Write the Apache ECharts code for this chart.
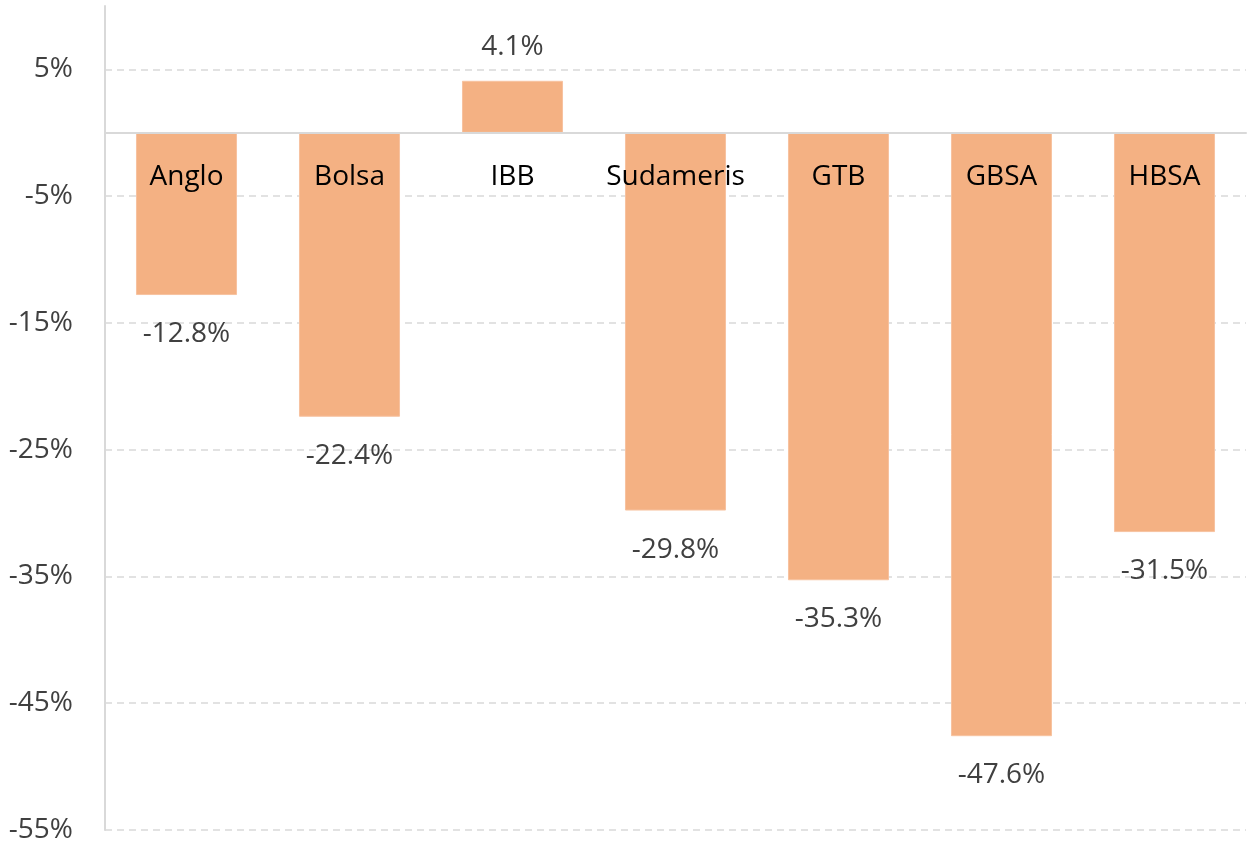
<!DOCTYPE html>
<html>
<head>
<meta charset="utf-8">
<script src="https://cdn.jsdelivr.net/npm/echarts@6/dist/echarts.min.js"></script>
<style>html,body{margin:0;padding:0;background:#fff}#c{width:1250px;height:848px}</style>
</head>
<body>
<div id="c"></div>
<script>
const categories = ['Anglo', 'Bolsa', 'IBB', 'Sudameris', 'GTB', 'GBSA', 'HBSA'];
const values = [-12.8, -22.4, 4.1, -29.8, -35.3, -47.6, -31.5];
const yMin = -55, yMax = 10, yInterval = 10;

const W = 1250, H = 848;
const gridTop = 6, gridBottom = 18;
const gridH = H - gridTop - gridBottom;
// move the category axis (line + labels) up to the zero level
const zeroOffset = -gridH * (0 - yMin) / (yMax - yMin);

const chart = echarts.init(document.getElementById('c'));
const FONT = '"Open Sans", sans-serif';
chart.setOption({
  animation: false,
  grid: { left: 105, right: 4, top: gridTop, bottom: gridBottom, containLabel: false, outerBoundsMode: 'none' },
  xAxis: {
    type: 'category',
    data: categories,
    offset: zeroOffset,
    axisLine: { onZero: false, lineStyle: { color: '#d9d9d9', width: 2 } },
    axisTick: { show: false },
    axisLabel: { color: '#000', fontFamily: FONT, fontSize: 28, margin: 30, interval: 0, hideOverlap: false },
    splitLine: { show: false },
    z: 5
  },
  yAxis: {
    type: 'value',
    min: yMin, max: yMax, interval: yInterval,
    axisLine: { show: true, lineStyle: { color: '#d9d9d9', width: 2 } },
    axisTick: { show: false },
    axisLabel: { color: '#404040', fontFamily: FONT, fontSize: 28, margin: 32, showMaxLabel: false,
      formatter: v => v + '%' },
    splitLine: { show: true, showMaxLine: false, lineStyle: { color: '#d9d9d9', width: 1.5, type: [7, 5] } }
  },
  series: [{
    type: 'bar',
    barWidth: '62%',
    data: values.map(v => ({
      value: v,
      label: { position: v >= 0 ? 'top' : 'bottom', distance: v >= 0 ? 20 : 25 }
    })),
    itemStyle: { color: '#F4B183', borderColor: '#F7C3A0', borderWidth: 1 },
    label: { show: true, color: '#404040', fontFamily: FONT, fontSize: 28,
      formatter: p => p.value.toFixed(1) + '%' }
  }]
});
</script>
</body>
</html>
